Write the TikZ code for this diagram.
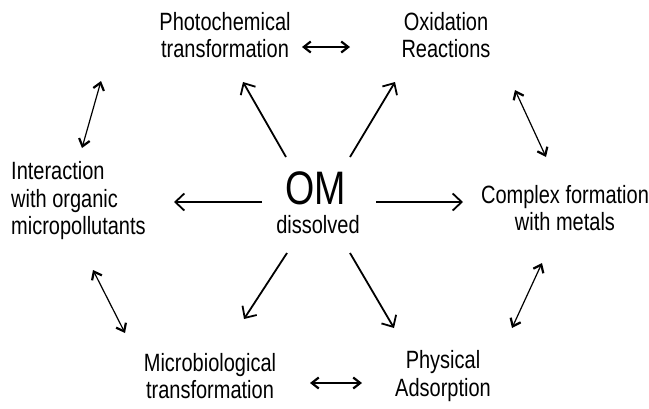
\documentclass[tikz,border=0pt]{standalone}
\usepackage{fontspec}
\setmainfont{Liberation Sans}[FakeStretch=0.8]
\usetikzlibrary{arrows.meta}
\begin{document}
\begin{tikzpicture}[x=1pt,y=-1pt,
  lbl/.style={font=\fontsize{25}{27.5}\selectfont, inner sep=0pt},
  mainarrow/.style={line width=1.8pt, -{Straight Barb[length=9pt,width=17pt,line width=1.8pt]}},
  duo/.style={line width=1.2pt, {Straight Barb[length=7pt,width=11pt,line width=2.2pt]}-{Straight Barb[length=7pt,width=11pt,line width=2.2pt]}}
]
\useasboundingbox (0,0) rectangle (649,408);
% texts
\node[lbl, align=center] (photo) at (225,35) {Photochemical\\transformation};
\node[lbl, align=center] (oxid) at (446,35) {Oxidation\\Reactions};
\node[lbl, align=left, anchor=west] (inter) at (11,201) {Interaction\\with organic\\micropollutants};
\node[lbl, align=center] (complex) at (565,208) {Complex formation\\with metals};
\node[lbl, align=center] (micro) at (210,376) {Microbiological\\transformation};
\node[lbl, align=center] (phys) at (443,376) {Physical\\Adsorption};
\node[inner sep=0pt, font=\fontsize{47}{47}\selectfont] (om) at (316,188) {OM};
\node[lbl] (diss) at (318,225) {dissolved};
% radial arrow end points
\coordinate (a1s) at (286,157); \coordinate (a1e) at (243,82);
\coordinate (a2s) at (350,157); \coordinate (a2e) at (395,82);
\coordinate (a3s) at (262,202); \coordinate (a3e) at (174,202);
\coordinate (a4s) at (376,202); \coordinate (a4e) at (463,202);
\coordinate (a5s) at (287,253); \coordinate (a5e) at (244,319);
\coordinate (a6s) at (350,253); \coordinate (a6e) at (394,328);
\foreach \i in {1,...,6} \draw[mainarrow] (a\i s) -- (a\i e);
% double arrows
\coordinate (d1a) at (302,47); \coordinate (d1b) at (350,47);
\coordinate (d2a) at (101,81); \coordinate (d2b) at (82,148);
\coordinate (d3a) at (515,90); \coordinate (d3b) at (546,157);
\coordinate (d4a) at (93,270); \coordinate (d4b) at (125,333);
\coordinate (d5a) at (542,263); \coordinate (d5b) at (512,328);
\coordinate (d6a) at (310,383); \coordinate (d6b) at (362,383);
\foreach \i in {1,...,6} \draw[duo] (d\i a) -- (d\i b);
\end{tikzpicture}
\end{document}
